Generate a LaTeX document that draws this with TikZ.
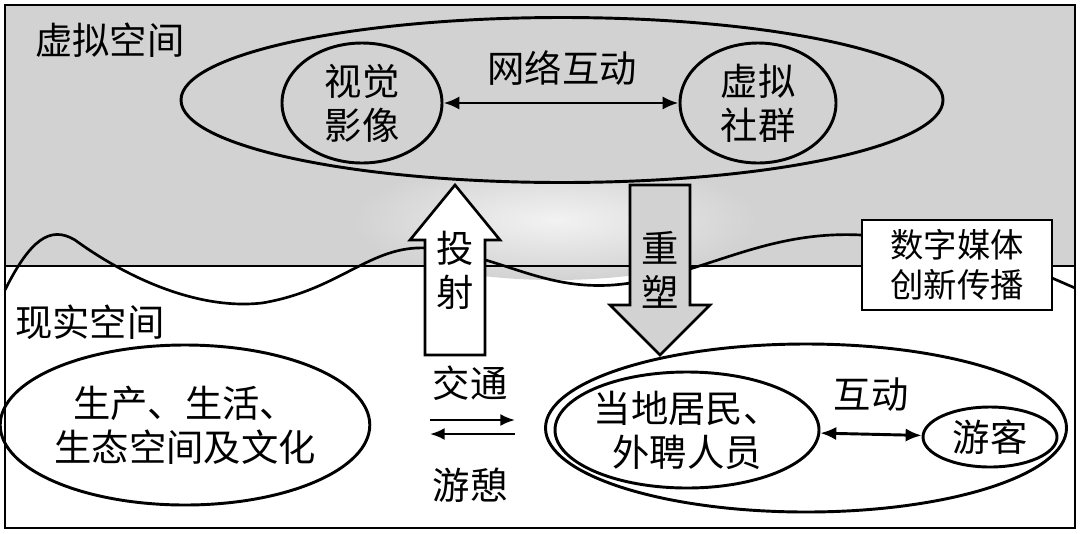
\documentclass[tikz,border=0pt]{standalone}
\usepackage{fontspec}
\setmainfont{Noto Sans CJK SC}
\usetikzlibrary{shapes.geometric,arrows.meta}
\begin{document}
\begin{tikzpicture}[x=0.75pt,y=-0.75pt,
  txt/.style={font=\fontsize{28}{33}\selectfont,align=center,inner sep=0pt},
  ell/.style={draw,line width=2.2pt,ellipse,inner sep=0pt},
  ln/.style={line width=2.2pt},
  dbl/.style={ln,{Latex[length=12pt,width=10pt]}-{Latex[length=12pt,width=10pt]}},
  sgl/.style={line width=1.8pt,-{Latex[length=11pt,width=9pt]}}]
\useasboundingbox (0,0) rectangle (1080,533);
\fill[gray!35] (5,5) rectangle (1075,266);
\shade[inner color=gray!10,outer color=gray!35] (555,220) ellipse [x radius=200, y radius=60];
\draw[ln] (5,266) -- (1075,266);
\draw[ln] (5,5) rectangle (1075,528);
% wave
\draw[line width=2pt] (5,290) .. controls (30,240) and (50,225) .. (75,240)
  .. controls (130,280) and (200,310) .. (262,303)
  .. controls (340,290) and (370,245) .. (427,248)
  .. controls (500,255) and (540,290) .. (613,285)
  .. controls (700,278) and (760,230) .. (861,235);
\draw[line width=2pt] (1052,278) -- (1075,288);
\node[draw,line width=1.8pt,fill=white,txt,minimum width=190pt*0.75,minimum height=90pt*0.75,font=\fontsize{25}{30}\selectfont] (box) at (957,265) {数字媒体\\创新传播};
% top
\node[ell,fill=gray!35,minimum width=762pt*0.75,minimum height=165pt*0.75] (big) at (562,100) {};
\node[ell,txt,minimum width=160pt*0.75,minimum height=120pt*0.75] (sy) at (362,103) {视觉\\影像};
\node[ell,txt,minimum width=156pt*0.75,minimum height=120pt*0.75] (xn) at (758,103) {虚拟\\社群};
\draw[dbl] (sy) -- (xn);
\node[txt] (wl) at (562,68) {网络互动};
\node[txt,anchor=west] (t1) at (35,40) {虚拟空间};
\node[txt,anchor=west] (t2) at (15,322) {现实空间};
% arrows
\draw[line width=2pt,fill=white,line join=miter] (425,355) -- (425,240) -- (410,240) -- (455,185) -- (500,240) -- (485,240) -- (485,355) -- cycle;
\node[txt] (ts) at (455,270) {投\\射};
\draw[line width=2pt,fill=gray!35,line join=miter] (630,185) -- (630,305) -- (610,305) -- (660,355) -- (710,305) -- (690,305) -- (690,185) -- cycle;
\node[txt] (cs) at (660,270) {重\\塑};
% bottom
\node[ell,txt,minimum width=350pt*0.75,minimum height=160pt*0.75] (sc) at (185,425) {生产、生活、\\生态空间及文化};
\node[ell,minimum width=521pt*0.75,minimum height=168pt*0.75] (outer) at (806,428) {};
\node[ell,txt,minimum width=262pt*0.75,minimum height=116pt*0.75] (jm) at (687,430) {当地居民、\\外聘人员};
\node[ell,txt,minimum width=134pt*0.75,minimum height=60pt*0.75] (yk) at (990,437) {游客};
\draw[dbl] (jm) -- (yk);
\node[txt] (hd) at (871,395) {互动};
\coordinate (a1) at (430,420); \coordinate (a2) at (515,420);
\coordinate (b1) at (515,434); \coordinate (b2) at (430,434);
\draw[sgl] (a1) -- (a2);
\draw[sgl] (b1) -- (b2);
\node[txt] (jt) at (470,383) {交通};
\node[txt] (yq) at (470,485) {游憩};
\end{tikzpicture}
\end{document}
